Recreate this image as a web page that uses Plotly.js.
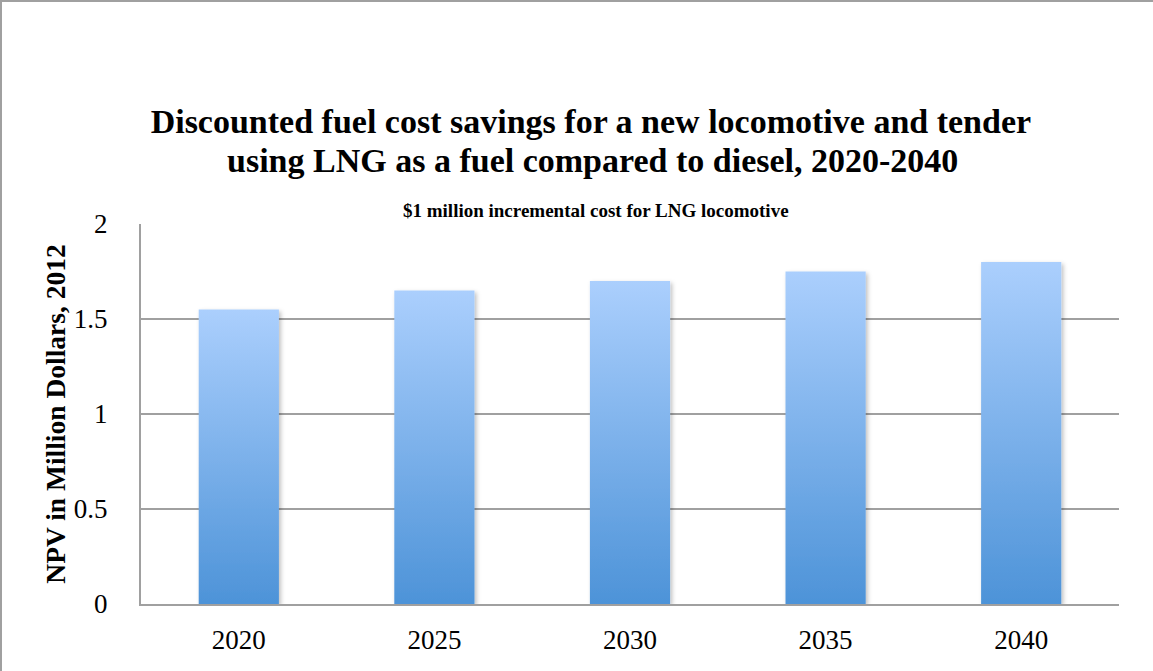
<!DOCTYPE html>
<html>
<head>
<meta charset="utf-8">
<script src="https://cdn.plot.ly/plotly-3.0.1.min.js"></script>
<style>
  html, body { margin: 0; padding: 0; background: #fff; }
  #wrap { position: relative; width: 1153px; height: 671px; }
  #chart { width: 1153px; height: 671px; }
  #frame { position: absolute; left: 0; top: 0; width: 1153px; height: 671px;
           box-sizing: border-box; border-left: 2px solid #a0a0a0; border-top: 2px solid #a0a0a0;
           pointer-events: none; }
</style>
</head>
<body>
<svg width="0" height="0" style="position:absolute">
  <defs>
    <linearGradient id="barGrad" x1="0" y1="0" x2="0" y2="1">
      <stop offset="0%" stop-color="#abcffd"/>
      <stop offset="100%" stop-color="#4d93d8"/>
    </linearGradient>
    <filter id="barShadow" x="-20%" y="-5%" width="140%" height="115%">
      <feDropShadow dx="2" dy="2" stdDeviation="2" flood-color="#000" flood-opacity="0.25"/>
    </filter>
  </defs>
</svg>
<div id="wrap">
  <div id="chart"></div>
  <div id="frame"></div>
</div>
<script>
const years = ["2020", "2025", "2030", "2035", "2040"];
const npvValues = [1.55, 1.65, 1.70, 1.75, 1.80];
const yTicks = [0, 0.5, 1, 1.5, 2];
const yTickLabels = ["0", "0.5", "1", "1.5", "2"];
const titleLine1 = "Discounted fuel cost savings for a new locomotive and tender";
const titleLine2 = "using LNG as a fuel compared to diesel, 2020-2040";
const subtitle = "$1 million incremental cost for LNG locomotive";

const serif = "'Liberation Serif', 'Times New Roman', serif";

const data = [{
  type: "bar",
  x: years,
  y: npvValues,
  marker: { color: "#7fb2ec", line: { width: 0 } },
  hoverinfo: "x+y"
}];

const layout = {
  width: 1153,
  height: 671,
  margin: { l: 141, r: 34, t: 224, b: 67 },
  paper_bgcolor: "#ffffff",
  plot_bgcolor: "#ffffff",
  bargap: 0.59,
  showlegend: false,
  font: { family: serif, color: "#000" },
  title: {
    text: "<b>" + titleLine1 + "</b>",
    font: { family: serif, size: 34, color: "#000" },
    xref: "paper", x: 0.46, xanchor: "center",
    yref: "container", y: 0.819, yanchor: "middle"
  },
  annotations: [{
    text: "<b>" + titleLine2 + "</b>",
    xref: "paper", yref: "paper",
    x: 0.462, y: 1.166, xanchor: "center", yanchor: "middle",
    showarrow: false,
    font: { family: serif, size: 34, color: "#000" }
  }, {
    text: "<b>" + subtitle + "</b>",
    xref: "paper", yref: "paper",
    x: 0.465, y: 1.0, xanchor: "center", yanchor: "bottom",
    yshift: 1,
    showarrow: false,
    font: { family: serif, size: 19, color: "#000" }
  }],
  xaxis: {
    type: "category",
    tickfont: { family: serif, size: 27, color: "#000" },
    showline: true, linecolor: "#a0a0a0", linewidth: 2,
    showgrid: false, ticks: "", ticklen: 0,
    ticklabelstandoff: 11,
    automargin: false
  },
  yaxis: {
    range: [0, 2],
    tickvals: yTicks,
    ticktext: yTickLabels,
    tickfont: { family: serif, size: 27, color: "#000" },
    showgrid: true, gridcolor: "#a0a0a0", gridwidth: 2,
    showline: true, linecolor: "#a0a0a0", linewidth: 2,
    zeroline: false,
    ticks: "", ticklabelstandoff: 26,
    title: {
      text: "<b>NPV in Million Dollars, 2012</b>",
      font: { family: serif, size: 27.5, color: "#000" },
      standoff: 0
    },
    automargin: false
  }
};

function styleBars() {
  document.querySelectorAll("#chart .bars .point path").forEach(p => {
    p.style.fill = "url(#barGrad)";
    p.style.filter = "url(#barShadow)";
  });
}

Plotly.newPlot("chart", data, layout, { displayModeBar: false, staticPlot: true }).then(gd => {
  styleBars();
  gd.on("plotly_afterplot", styleBars);
});
</script>
</body>
</html>
